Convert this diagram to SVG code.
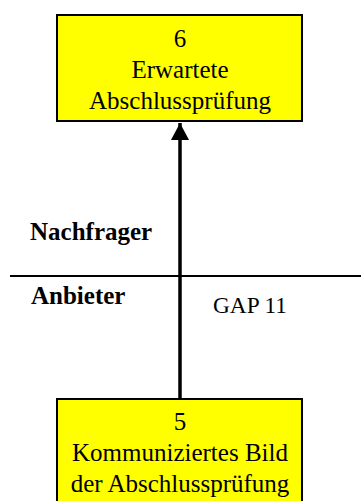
<svg xmlns="http://www.w3.org/2000/svg" width="361" height="501" viewBox="0 0 361 501">
<defs>
<style>
.box{fill:#ffff00;stroke:#000;stroke-width:2}
.t{font-family:"Liberation Serif","Times New Roman",serif;font-size:25px;fill:#000;text-anchor:middle}
.lb{font-family:"Liberation Serif","Times New Roman",serif;font-size:25px;font-weight:bold;fill:#000}
.lr{font-family:"Liberation Serif","Times New Roman",serif;font-size:23.3px;fill:#000}
</style>
<marker id="ah" markerUnits="userSpaceOnUse" markerWidth="18" markerHeight="18" refX="17" refY="9" orient="auto">
<path d="M0,0 L17,9 L0,18 Z" fill="#000"/>
</marker>
</defs>
<rect width="361" height="501" fill="#fff"/>
<line x1="10" y1="276" x2="361" y2="276" stroke="#000" stroke-width="2"/>
<text class="lb" x="30" y="240">Nachfrager</text>
<text class="lb" x="31" y="304">Anbieter</text>
<text class="lr" x="213" y="313">GAP 11</text>
<g id="node6">
<rect class="box" x="57" y="15" width="245" height="106"/>
<text class="t" x="180" y="47">6</text>
<text class="t" x="180" y="78">Erwartete</text>
<text class="t" x="180" y="109">Abschlussprüfung</text>
</g>
<g id="node5">
<rect class="box" x="57" y="399" width="245" height="110"/>
<text class="t" x="180" y="430">5</text>
<text class="t" x="180" y="461">Kommuniziertes Bild</text>
<text class="t" x="180" y="492">der Abschlussprüfung</text>
</g>
<g id="connectors">
<line x1="180" y1="399" x2="180" y2="123" stroke="#000" stroke-width="3.5" marker-end="url(#ah)"/>
</g>
</svg>
